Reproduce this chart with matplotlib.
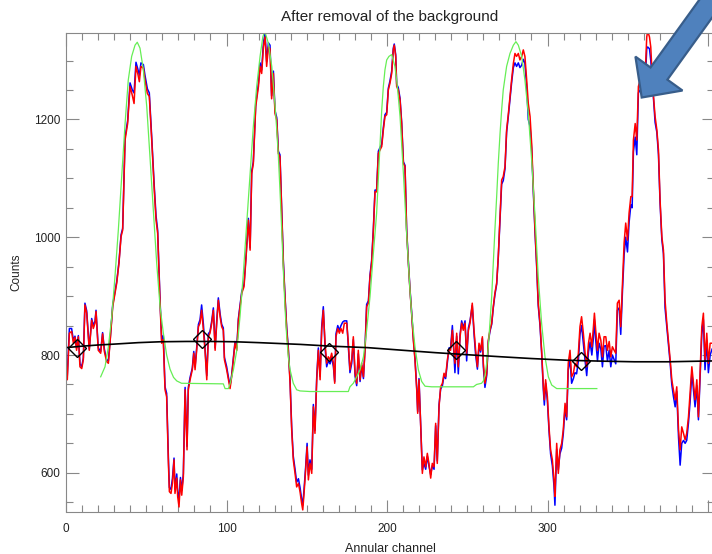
import matplotlib
matplotlib.use('Agg')
import matplotlib.pyplot as plt
from matplotlib.patches import FancyArrow
from matplotlib.ticker import MultipleLocator, FuncFormatter

# annular channel positions
chan = [0.0, 0.8, 2.1, 3.5, 4.6, 5.6, 6.6, 7.7, 8.7, 9.8,
        10.8, 11.8, 12.9, 14.5, 16.0, 17.0, 18.1, 18.7, 20.1, 21.6,
        22.8, 23.9, 25.3, 26.4, 27.4, 29.1, 30.5, 31.6, 33.0, 34.3,
        35.3, 36.8, 38.4, 39.9, 41.3, 42.4, 43.6, 44.7, 45.7, 46.7,
        48.2, 49.2, 50.7, 51.9, 53.4, 55.0, 56.1, 57.1, 58.6, 59.6,
        60.6, 61.7, 62.7, 63.8, 64.4, 65.4, 66.3, 67.3, 67.9, 69.0,
        69.6, 70.4, 71.3, 72.1, 73.1, 74.2, 75.4, 76.2, 77.3, 78.7,
        79.6, 80.4, 81.4, 82.5, 83.5, 84.5, 85.6, 86.6, 87.7, 88.7,
        89.7, 90.8, 91.8, 92.9, 93.9, 94.9, 96.0, 97.0, 98.0, 98.7,
        100.1, 101.2, 102.2, 103.2, 104.3, 105.3, 106.4, 107.4, 109.5, 110.9,
        112.2, 113.6, 114.7, 115.7, 116.7, 118.2, 119.9, 120.9, 121.9, 123.0,
        124.0, 125.0, 126.1, 127.1, 128.1, 129.2, 130.2, 131.3, 132.3, 133.3,
        134.4, 135.4, 136.4, 137.5, 138.5, 139.6, 140.6, 141.6, 142.7, 143.7,
        144.8, 145.8, 146.8, 147.5, 148.3, 149.3, 150.2, 151.0, 152.0, 153.1,
        154.1, 155.1, 156.2, 157.2, 158.3, 159.3, 160.3, 161.4, 162.4, 163.4,
        164.5, 165.5, 166.6, 167.4, 168.2, 169.3, 170.3, 171.3, 172.4, 173.4,
        174.9, 175.9, 176.9, 178.0, 179.0, 180.1, 181.1, 182.1, 183.2, 184.2,
        185.3, 186.3, 187.3, 188.4, 189.4, 190.4, 191.5, 192.5, 193.5, 194.6,
        195.6, 196.7, 197.7, 198.7, 199.8, 200.8, 201.8, 202.9, 203.9, 204.5,
        205.4, 206.0, 207.0, 208.1, 209.1, 210.2, 211.2, 212.2, 213.3, 214.3,
        215.3, 216.4, 217.4, 218.5, 219.1, 219.9, 221.0, 222.0, 223.0, 224.1,
        225.1, 226.1, 227.2, 228.2, 229.3, 230.3, 231.3, 232.4, 233.4, 234.5,
        235.5, 236.5, 237.6, 238.6, 239.6, 240.7, 241.7, 242.3, 243.4, 244.4,
        245.5, 246.5, 247.5, 248.6, 249.6, 250.7, 251.7, 253.1, 254.2, 255.2,
        256.3, 257.3, 258.3, 259.4, 260.0, 261.0, 262.1, 263.1, 264.1, 265.2,
        266.2, 267.2, 268.3, 269.3, 270.4, 271.4, 272.4, 273.5, 274.5, 275.6,
        276.6, 277.6, 278.7, 279.7, 280.7, 281.8, 282.8, 283.9, 284.9, 285.9,
        287.0, 288.0, 289.1, 290.1, 291.1, 292.2, 293.2, 294.2, 295.3, 296.3,
        297.4, 298.0, 298.8, 299.9, 300.9, 301.9, 303.0, 304.0, 304.6, 305.7,
        306.7, 307.7, 308.8, 309.8, 310.9, 311.9, 312.9, 314.0, 315.0, 316.1,
        317.1, 318.1, 319.2, 320.2, 321.2, 322.3, 323.4, 324.4, 325.5, 326.5,
        327.6, 328.6, 329.2, 330.0, 331.1, 332.1, 333.2, 334.2, 335.2, 336.3,
        337.3, 338.4, 339.4, 340.4, 341.5, 342.5, 343.5, 344.6, 345.6, 346.7,
        347.7, 348.7, 349.8, 350.8, 351.9, 352.7, 353.5, 354.6, 355.6, 356.6,
        357.7, 358.7, 359.7, 360.8, 361.8, 362.4, 363.5, 364.3, 364.9, 366.0,
        367.0, 368.1, 369.1, 370.1, 371.2, 372.2, 373.2, 374.3, 375.3, 376.4,
        377.4, 378.4, 379.5, 380.5, 381.6, 382.6, 383.6, 384.7, 385.7, 386.7,
        387.8, 388.8, 389.9, 390.9, 391.9, 393.0, 394.0, 395.0, 396.1, 397.1,
        398.1, 399.2, 400.2, 401.3, 402.5]

counts_red = [786, 758, 837, 840, 820, 830, 808, 831, 780, 777,
              792, 885, 871, 808, 859, 845, 854, 874, 808, 803,
              836, 806, 789, 786, 820, 882, 905, 922, 956, 1001,
              1012, 1165, 1193, 1256, 1241, 1227, 1290, 1278, 1264, 1290,
              1287, 1267, 1244, 1239, 1165, 1080, 1029, 1007, 888, 820,
              826, 741, 729, 616, 568, 565, 582, 622, 565, 591,
              559, 542, 588, 562, 593, 741, 639, 741, 758, 775,
              803, 775, 808, 848, 854, 876, 842, 808, 758, 831,
              837, 854, 876, 808, 854, 893, 865, 848, 842, 792,
              775, 758, 743, 763, 792, 820, 808, 859, 905, 916,
              967, 1029, 978, 1108, 1125, 1222, 1256, 1290, 1278, 1323,
              1340, 1290, 1323, 1320, 1235, 1278, 1210, 1199, 1142, 1137,
              1041, 956, 899, 842, 808, 752, 673, 622, 599, 576,
              582, 568, 548, 537, 565, 605, 644, 588, 616, 599,
              712, 667, 758, 808, 758, 842, 876, 820, 786, 797,
              792, 803, 786, 752, 831, 845, 837, 845, 837, 854,
              854, 820, 775, 792, 831, 769, 752, 808, 758, 786,
              763, 808, 882, 888, 933, 956, 1012, 1077, 1077, 1142,
              1148, 1154, 1182, 1205, 1208, 1250, 1261, 1278, 1318, 1326,
              1307, 1256, 1250, 1233, 1193, 1125, 1120, 1012, 956, 910,
              871, 825, 792, 741, 701, 758, 678, 599, 627, 610,
              633, 616, 591, 616, 610, 684, 616, 712, 746, 752,
              769, 763, 792, 809, 808, 842, 808, 786, 837, 780,
              831, 854, 842, 854, 803, 842, 854, 888, 842, 808,
              780, 820, 808, 831, 786, 752, 769, 825, 842, 854,
              882, 905, 922, 967, 1035, 1097, 1103, 1120, 1182, 1210,
              1239, 1267, 1295, 1312, 1307, 1312, 1301, 1307, 1318, 1307,
              1267, 1227, 1205, 1159, 1086, 1012, 956, 888, 854, 808,
              746, 724, 758, 729, 678, 639, 622, 588, 560, 650,
              599, 639, 650, 673, 718, 695, 786, 808, 763, 769,
              786, 780, 803, 848, 865, 837, 803, 780, 820, 837,
              814, 848, 871, 842, 808, 837, 825, 797, 831, 831,
              808, 823, 797, 814, 808, 803, 888, 893, 848, 922,
              990, 1024, 995, 1041, 1069, 1069, 1165, 1193, 1165, 1256,
              1267, 1256, 1250, 1273, 1340, 1350, 1340, 1323, 1290, 1239,
              1205, 1182, 1148, 1063, 1001, 978, 893, 854, 825, 792,
              758, 741, 724, 746, 673, 639, 678, 667, 656, 667,
              695, 735, 780, 752, 724, 758, 695, 769, 848, 871,
              792, 837, 786, 820, 820]

counts_blue = [786, 765, 845, 845, 825, 832, 812, 833, 785, 780,
               795, 888, 875, 810, 862, 850, 858, 876, 812, 806,
               838, 810, 792, 790, 822, 885, 908, 925, 958, 1004,
               1015, 1170, 1198, 1262, 1250, 1245, 1297, 1286, 1275, 1296,
               1293, 1275, 1252, 1245, 1170, 1086, 1036, 1012, 892, 826,
               833, 746, 735, 625, 575, 572, 590, 625, 572, 598,
               568, 555, 592, 570, 598, 745, 645, 745, 762, 778,
               806, 780, 812, 852, 860, 885, 852, 812, 765, 836,
               840, 858, 880, 812, 858, 897, 870, 852, 846, 796,
               780, 762, 748, 766, 796, 823, 812, 862, 908, 920,
               970, 1032, 982, 1112, 1128, 1226, 1262, 1296, 1284, 1330,
               1346, 1298, 1330, 1326, 1240, 1282, 1215, 1203, 1146, 1140,
               1044, 960, 902, 846, 812, 756, 678, 628, 606, 584,
               590, 575, 556, 545, 572, 610, 650, 596, 622, 606,
               716, 672, 762, 812, 764, 848, 882, 812, 780, 790,
               785, 796, 780, 755, 836, 850, 842, 850, 856, 858,
               858, 815, 770, 786, 826, 764, 748, 802, 755, 782,
               760, 812, 886, 892, 936, 960, 1016, 1080, 1080, 1146,
               1152, 1158, 1186, 1208, 1212, 1253, 1265, 1282, 1321, 1328,
               1310, 1260, 1254, 1236, 1196, 1128, 1122, 1015, 958, 912,
               874, 828, 795, 744, 704, 760, 680, 605, 616, 606,
               628, 612, 597, 612, 606, 680, 620, 716, 742, 748,
               765, 760, 788, 812, 812, 850, 800, 770, 832, 768,
               835, 858, 846, 858, 790, 846, 858, 884, 836, 800,
               776, 816, 805, 828, 780, 745, 765, 822, 840, 852,
               880, 902, 920, 965, 1032, 1090, 1096, 1116, 1178, 1206,
               1235, 1262, 1288, 1296, 1290, 1296, 1288, 1292, 1302, 1295,
               1255, 1200, 1188, 1150, 1080, 1008, 952, 884, 850, 804,
               740, 715, 752, 722, 672, 632, 612, 578, 545, 640,
               605, 632, 642, 666, 710, 690, 775, 792, 752, 760,
               770, 768, 790, 835, 850, 820, 790, 765, 805, 822,
               800, 830, 860, 826, 790, 820, 810, 780, 815, 816,
               790, 808, 780, 800, 792, 785, 876, 880, 835, 910,
               970, 1000, 975, 1025, 1055, 1050, 1145, 1170, 1140, 1245,
               1250, 1245, 1245, 1260, 1320, 1323, 1320, 1300, 1280, 1235,
               1195, 1178, 1140, 1058, 996, 972, 880, 848, 820, 786,
               750, 730, 712, 738, 660, 613, 650, 655, 650, 655,
               685, 720, 770, 740, 712, 748, 690, 760, 835, 860,
               775, 825, 770, 800, 810]

# green model profile
model_x = [21.6, 24.3, 26.4, 28.5, 30.5, 32.6, 34.7, 36.8, 38.8, 40.9,
           43.0, 44.4, 46.1, 48.2, 50.3, 52.3, 54.4, 56.5, 58.6, 60.6,
           62.7, 64.8, 67.0, 69.0, 72.0, 98.0, 99.1, 101.2, 102.2, 104.3,
           106.4, 108.4, 110.5, 112.6, 114.7, 116.7, 118.8, 120.9, 122.6, 123.8,
           126.1, 128.2, 130.2, 131.3, 132.3, 133.3, 134.4, 135.4, 136.4, 137.5,
           138.5, 139.6, 141.6, 143.7, 145.8, 152.0, 175.9, 176.9, 179.0, 181.1,
           183.2, 185.3, 187.3, 189.4, 191.5, 193.5, 195.6, 196.7, 197.7, 198.7,
           199.8, 201.2, 202.9, 204.9, 206.0, 207.0, 208.1, 209.1, 210.2, 211.2,
           212.2, 213.3, 214.3, 215.3, 217.4, 219.5, 221.6, 223.7, 227.8, 253.8,
           255.8, 258.9, 260.0, 261.0, 262.1, 263.1, 264.1, 265.2, 266.2, 267.2,
           268.3, 269.3, 270.4, 271.4, 272.4, 274.5, 276.6, 278.7, 280.3, 281.8,
           283.9, 285.9, 288.0, 290.1, 292.2, 294.2, 296.3, 298.4, 300.5, 302.6,
           305.7, 330.7]
model_y = [763, 780, 814, 865, 933, 1012, 1103, 1193, 1267, 1307,
           1326, 1331, 1321, 1284, 1222, 1137, 1046, 956, 882, 838,
           800, 776, 762, 756, 752, 751, 743, 743, 751, 775,
           808, 865, 939, 1024, 1108, 1188, 1256, 1307, 1340, 1350,
           1329, 1290, 1225, 1182, 1137, 1080, 1012, 944, 882, 831,
           797, 775, 752, 741, 739, 738, 738, 746, 752, 763,
           775, 797, 842, 899, 973, 1040, 1155, 1216, 1256, 1284,
           1301, 1307, 1310, 1290, 1267, 1239, 1205, 1159, 1108, 1058,
           1007, 956, 910, 871, 814, 775, 755, 747, 746, 746,
           750, 752, 756, 765, 786, 814, 854, 899, 956, 1012,
           1069, 1125, 1176, 1216, 1250, 1290, 1312, 1326, 1332, 1326,
           1307, 1267, 1210, 1131, 1035, 933, 854, 797, 763, 749,
           743, 743]

# black background curve and its knots
bg_x = [0, 10, 20, 30, 45, 59, 75, 90, 105, 120, 146, 165, 188, 210,
        230, 250, 271, 290, 313, 335, 354, 375, 404]
bg_y = [812.5, 815, 817, 818.5, 821, 822.5, 823, 823, 822.5, 821, 818, 815,
        812.5, 808, 804, 800.5, 797, 794, 791, 789.5, 788.5, 788.5, 790]
knot_x = [6.7, 84.8, 164.0, 242.7, 320.8]
knot_y = [812.5, 828, 805.6, 808, 789.7]

plt.rcParams['font.family'] = ['Liberation Sans', 'DejaVu Sans']

fig = plt.figure(figsize=(7.12, 5.54), dpi=100)
ax = fig.add_axes([66 / 712, 1 - 511.5 / 554, 648 / 712, 478.2 / 554])

ax.plot(chan, counts_blue, color='#0000ff', lw=1.1)
ax.plot(chan, counts_red, color='#ff0000', lw=1.1)
ax.plot(model_x, model_y, color='#66ee55', lw=0.9)
ax.plot(bg_x, bg_y, color='black', lw=1.2)
ax.plot(knot_x, knot_y, 'D', ms=9, mfc='none', mec='black', mew=1.0)

ax.set_xlim(0, 403.7)
ax.set_ylim(534.3, 1346.2)
ax.xaxis.set_major_locator(MultipleLocator(100))
ax.xaxis.set_minor_locator(MultipleLocator(10))
# the 400 label falls outside the cropped picture
ax.xaxis.set_major_formatter(FuncFormatter(lambda v, p: '' if v >= 400 else '%d' % v))
ax.yaxis.set_major_locator(MultipleLocator(200))
ax.yaxis.set_minor_locator(MultipleLocator(50))
ax.tick_params(which='both', direction='in', top=True, right=True,
               color='#888888', width=0.8, labelsize=8.5, labelcolor='#222222')
ax.tick_params(which='major', length=9)
ax.tick_params(which='minor', length=5)
ax.tick_params(axis='x', pad=8)
ax.tick_params(axis='y', pad=4)
for s in ax.spines.values():
    s.set_color('#888888')
    s.set_linewidth(0.8)

ax.set_title('After removal of the background', fontsize=11, pad=9, color='#222222')
ax.set_xlabel('Annular channel', fontsize=9, labelpad=6, color='#222222')
ax.set_ylabel('Counts', fontsize=8.5, labelpad=8, color='#222222')

# highlight arrow pointing at the last peak (pixel units, y up)
arrow = FancyArrow(7.335, 5.838, -0.918, -1.273, width=0.208, head_width=0.58,
                   head_length=0.295, length_includes_head=True,
                   transform=fig.dpi_scale_trans, facecolor='#4f81bd',
                   edgecolor='#385d8a', linewidth=1.6)
fig.add_artist(arrow)

fig.savefig('out.png', dpi=100)
